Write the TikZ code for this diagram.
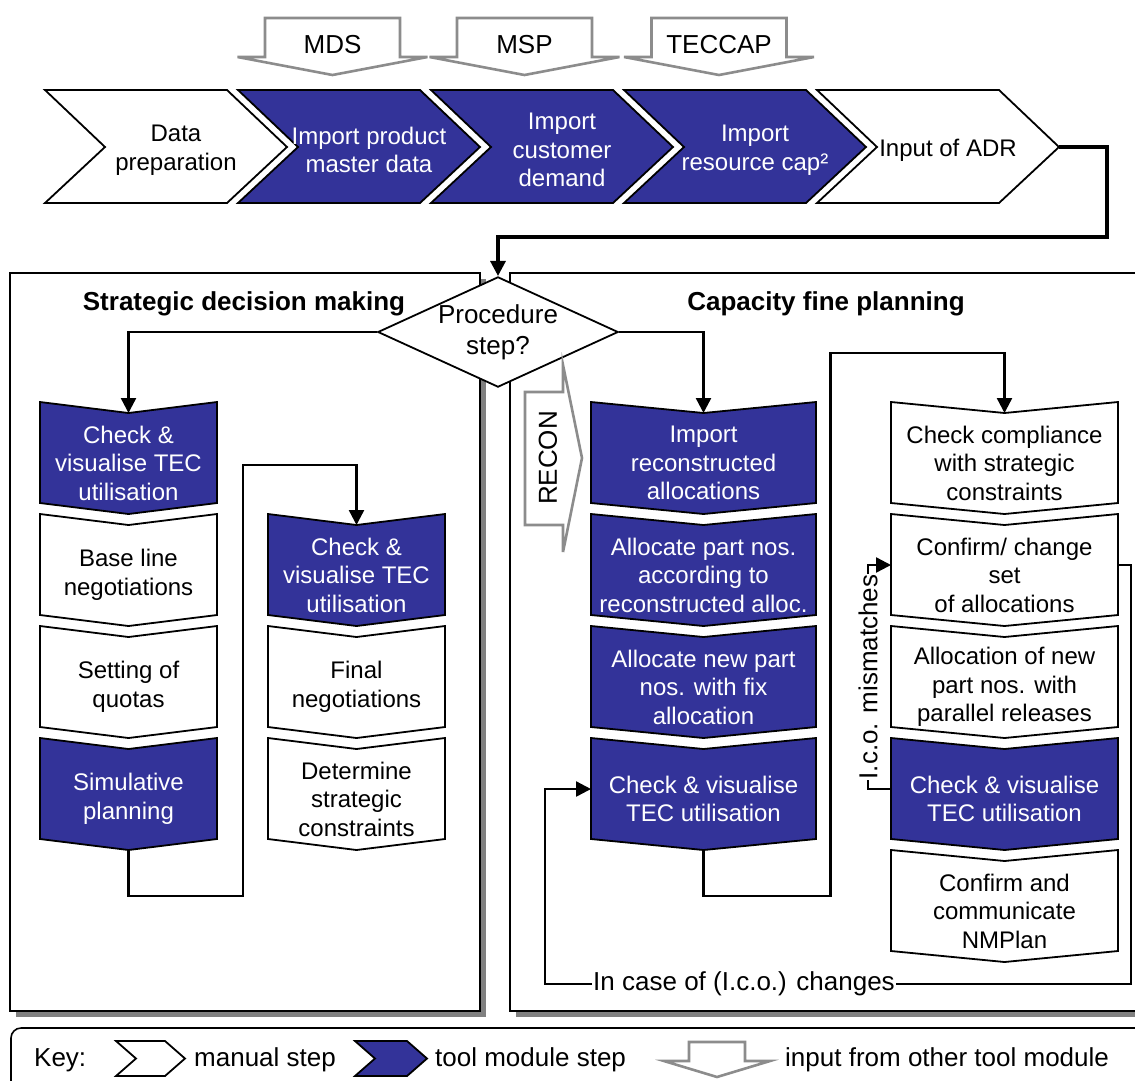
\documentclass[tikz,border=0pt]{standalone}
\usepackage{fontspec}
\setmainfont{Liberation Sans}
\usepackage{xcolor}
\usetikzlibrary{arrows.meta,calc,shapes.geometric}

\definecolor{toolblue}{RGB}{51,51,153}
\definecolor{inputgray}{RGB}{140,140,140}
\definecolor{shadowgray}{RGB}{128,128,128}

\newcommand{\boxfont}{\fontsize{24}{28.5}\selectfont}
\newcommand{\lblfont}{\fontsize{26}{31}\selectfont}
\newcommand{\titlefont}{\fontsize{26}{31}\selectfont\bfseries}

% downward step: name, centre x, top y, half width, style, text
\newcommand{\downstep}[6]{%
  \draw[#5] (#2-#4,#3) -- (#2,#3+11) -- (#2+#4,#3) -- (#2+#4,#3+101)
    -- (#2,#3+112) -- (#2-#4,#3+101) -- cycle;
  \node[#5 text] (#1) at (#2,#3+61) {#6};
  \coordinate (#1-in) at (#2,#3+11);
  \coordinate (#1-out) at (#2,#3+112);
  \coordinate (#1-w) at (#2-#4,#3+51);
  \coordinate (#1-e) at (#2+#4,#3+51);
}
% step of the preparation chain: name, left x, style, text
\newcommand{\chainstep}[4]{%
  \draw[#3] (#2,90) -- (#2+182,90) -- (#2+242,147) -- (#2+182,203)
    -- (#2,203) -- (#2+60,147) -- cycle;
  \node[#3 text] (#1) at (#2+131,150) {#4};
  \coordinate (#1-tip) at (#2+242,147);
}
% input from another module: name, centre x, text
\newcommand{\modinput}[3]{%
  \draw[input] (#2-67.5,18) -- (#2+67.5,18) -- (#2+67.5,57) -- (#2+95,57)
    -- (#2,75) -- (#2-95,57) -- (#2-67.5,57) -- cycle;
  \node[lbl] (#1) at (#2,45) {#3};
}

\begin{document}
\begin{tikzpicture}[x=1pt, y=-1pt,
    manual/.style={draw, fill=white, line width=1.8pt},
    tool/.style={draw, fill=toolblue, line width=1.8pt},
    manual text/.style={align=center, font=\boxfont},
    tool text/.style={align=center, font=\boxfont, text=white},
    input/.style={draw=inputgray, fill=white, line width=2.6pt},
    line/.style={line width=2.4pt},
    conn/.style={line, -{Triangle[length=15pt,width=15pt]}},
    lbl/.style={font=\lblfont, inner sep=1pt, align=center},
    title/.style={font=\titlefont},
    panel/.style={draw, fill=white, line width=1.8pt}
]
    \useasboundingbox (0,0) rectangle (1135,1080);
    \clip (0,0) rectangle (1135,1080);

    % Inputs from other modules
    \modinput{mds}{332.5}{MDS}
    \modinput{msp}{524.5}{MSP}
    \modinput{teccap}{719}{TECCAP}

    % Preparation chain
    \chainstep{prep}{45}{manual}{Data\\preparation}
    \chainstep{pmd}{238}{tool}{Import product\\master data}
    \chainstep{dem}{431}{tool}{Import\\customer\\demand}
    \chainstep{cap}{624}{tool}{Import\\resource cap²}
    \chainstep{adr}{817}{manual}{Input of ADR}

    % Panels with shadow
    \fill[shadowgray] (16,279) rectangle (486,1017);
    \fill[shadowgray] (516,279) rectangle (1170,1017);
    \draw[panel] (10,273) rectangle (480,1011);
    \draw[panel] (510,273) rectangle (1160,1011);
    \node[title] (sdm) at (244,304) {Strategic decision making};
    \node[title] (cfp) at (826,304) {Capacity fine planning};

    % Decision
    \node[diamond, draw, fill=white, line width=1.8pt, aspect=2.18,
          inner sep=0pt, font=\lblfont, align=center] (proc) at (498,332) {Procedure\\step?};

    % Strategic decision making
    \downstep{lchk}{128.5}{402}{88.5}{tool}{Check \&\\visualise TEC\\utilisation}
    \downstep{base}{128.5}{514}{88.5}{manual}{Base line\\negotiations}
    \downstep{quota}{128.5}{626}{88.5}{manual}{Setting of\\quotas}
    \downstep{sim}{128.5}{738}{88.5}{tool}{Simulative\\planning}
    \downstep{schk}{356.5}{514}{88.5}{tool}{Check \&\\visualise TEC\\utilisation}
    \downstep{final}{356.5}{626}{88.5}{manual}{Final\\negotiations}
    \downstep{strat}{356.5}{738}{88.5}{manual}{Determine\\strategic\\constraints}

    % Capacity fine planning
    \draw[input] (525,392) -- (563,392) -- (563,365) -- (582,458) -- (563,552)
        -- (563,525) -- (525,525) -- cycle;
    \node[lbl, rotate=90] (recon) at (548,458) {RECON};
    \downstep{recimp}{703.5}{402}{112.5}{tool}{Import\\reconstructed\\allocations}
    \downstep{alloc}{703.5}{514}{112.5}{tool}{Allocate part nos.\\according to\\reconstructed alloc.}
    \downstep{newpart}{703.5}{626}{112.5}{tool}{Allocate new part\\nos. with fix\\allocation}
    \downstep{mchk}{703.5}{738}{112.5}{tool}{Check \& visualise\\TEC utilisation}
    \downstep{comp}{1004.5}{402}{113.5}{manual}{Check compliance\\with strategic\\constraints}
    \downstep{conf}{1004.5}{514}{113.5}{manual}{Confirm/ change\\set\\of allocations}
    \downstep{par}{1004.5}{626}{113.5}{manual}{Allocation of new\\part nos. with\\parallel releases}
    \downstep{rchk}{1004.5}{738}{113.5}{tool}{Check \& visualise\\TEC utilisation}
    \downstep{nmp}{1004.5}{850}{113.5}{manual}{Confirm and\\communicate\\NMPlan}

    % Connectors
    \draw[conn, line width=3.2pt] (adr-tip) -- ++(48,0) |- ([yshift=39pt]proc.north) -- (proc.north);
    \draw[conn] (proc.west) -| (lchk-in);
    \draw[conn] (proc.east) -| (recimp-in);
    \draw[conn] (sim-out) -- ++(0,46) -- ++(114.5,0) |- ([yshift=60pt]schk-in) -- (schk-in);
    \draw[conn] (mchk-out) -- ++(0,46) -- ++(127,0) |- ([yshift=60pt]comp-in) -- (comp-in);

    % Loops back
    \node[lbl, fill=white] (chg) at (744,984) {In case of (I.c.o.) changes};
    \draw[line] (conf-e) -- ++(13,0) |- (chg.east);
    \draw[conn] (chg.west) -| ([xshift=-46pt]mchk-w) -- (mchk-w);
    \draw[conn] (rchk-w) -- ++(-23,0) |- (conf-w)
        node[pos=0.25, lbl, rotate=90, fill=white] (mism) {I.c.o. mismatches};

    % Key
    \draw[line width=1.6pt, rounded corners=10pt] (11,1028) rectangle (1160,1110);
    \node[lbl, anchor=west] (key) at (33,1060) {Key:};
    \draw[manual] (116,1041) -- (165,1041) -- (185,1058.5) -- (165,1076) -- (116,1076)
        -- (136,1058.5) -- cycle;
    \node[lbl, anchor=west] (keyman) at (193,1060) {manual step};
    \draw[tool] (355,1041) -- (407,1041) -- (427,1058.5) -- (407,1076) -- (355,1076)
        -- (375,1058.5) -- cycle;
    \node[lbl, anchor=west] (keytool) at (434,1060) {tool module step};
    \draw[input] (689,1042) -- (745,1042) -- (745,1061) -- (770,1061) -- (717,1077)
        -- (664,1061) -- (689,1061) -- cycle;
    \node[lbl, anchor=west] (keyin) at (784,1060) {input from other tool module};
\end{tikzpicture}
\end{document}
